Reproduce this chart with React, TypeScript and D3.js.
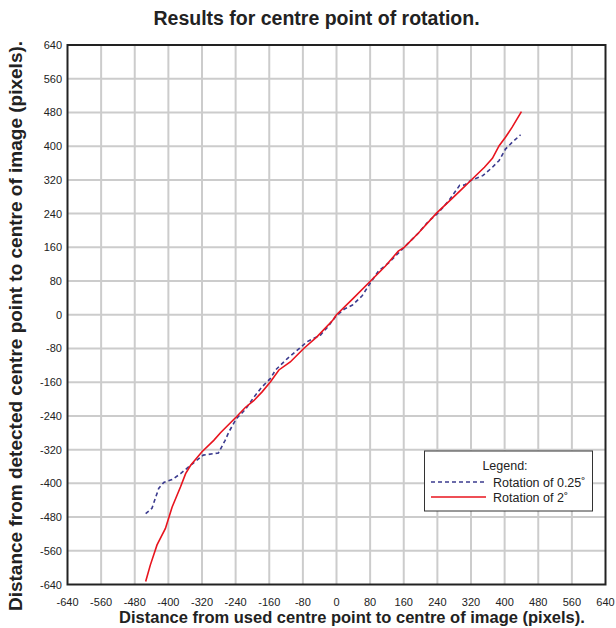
import React from "react";
import * as d3 from "d3";

const ticks = [-640, -560, -480, -400, -320, -240, -160, -80, 0, 80, 160, 240, 320, 400, 480, 560, 640];

const blueX = [-454, -439, -423, -411, -391, -371, -347, -317, -281, -265, -256, -238, -217, -197, -177, -157, -145, -117, -86, -70, -38, -20, -2, 18, 38, 61, 81, 100, 124, 161, 195, 218, 240, 266, 293, 305, 320, 348, 371, 387, 402, 418, 438];
const blueY = [-472, -459, -412, -398, -391, -377, -357, -333, -328, -298, -278, -246, -225, -196, -171, -151, -131, -104, -78, -64, -48, -28, -4, 13, 23, 45, 76, 104, 123, 160, 194, 221, 240, 269, 307, 308, 319, 330, 350, 366, 393, 409, 427];

const redX = [-454, -443, -427, -407, -391, -371, -359, -347, -320, -292, -276, -238, -217, -197, -177, -157, -137, -110, -78, -46, -9, 0, 38, 81, 116, 147, 161, 195, 238, 274, 297, 320, 352, 371, 387, 402, 418, 440];
const redY = [-633, -594, -546, -507, -456, -408, -377, -357, -325, -298, -280, -242, -220, -204, -183, -159, -131, -112, -80, -52, -13, 0, 37, 80, 115, 151, 160, 194, 241, 275, 297, 319, 350, 371, 401, 421, 445, 482];

const seriesNames = ["Rotation of 0.25˚", "Rotation of 2˚"];

export default function App() {
  const W = 616, H = 628;
  const left = 67.5, right = 605.5, top = 45, bottom = 584.5;
  const x = d3.scaleLinear().domain([-640, 640]).range([left, right]);
  const y = d3.scaleLinear().domain([-640, 640]).range([bottom, top]);
  const line = d3.line<[number, number]>().x(d => x(d[0])).y(d => y(d[1]));
  const blue = blueX.map((v, i) => [v, blueY[i]] as [number, number]);
  const red = redX.map((v, i) => [v, redY[i]] as [number, number]);
  const font = "'Liberation Sans', Arial, Helvetica, sans-serif";
  const lgX = 424.5, lgY = 451, lgW = 168, lgH = 60;
  return (
    <svg width={W} height={H} style={{ position: "absolute", left: 0, top: 0, background: "#fff" }} fontFamily={font}>
      <rect x={0} y={0} width={W} height={H} fill="#fff" />
      <text x={316.5} y={25} textAnchor="middle" fontSize={19.5} fontWeight="bold" fill="#222">Results for centre point of rotation.</text>
      {ticks.slice(1, -1).map(t => (
        <line key={"gx" + t} x1={x(t)} x2={x(t)} y1={top} y2={bottom} stroke="#cccccc" strokeWidth={2} />
      ))}
      {ticks.slice(1, -1).map(t => (
        <line key={"gy" + t} x1={left} x2={right} y1={y(t)} y2={y(t)} stroke="#cccccc" strokeWidth={2} />
      ))}
      <path d={line(blue) || ""} fill="none" stroke="#3b3b8f" strokeWidth={1.6} strokeDasharray="4,3" />
      <path d={line(red) || ""} fill="none" stroke="#e8141e" strokeWidth={1.6} />
      <rect x={left} y={top} width={right - left} height={bottom - top} fill="none" stroke="#222" strokeWidth={2} />
      {ticks.map(t => (
        <text key={"tx" + t} x={x(t)} y={605.5} textAnchor="middle" fontSize={11} fill="#222">{t}</text>
      ))}
      {ticks.map(t => (
        <text key={"ty" + t} x={62} y={y(t) + 4} textAnchor="end" fontSize={11} fill="#222">{t}</text>
      ))}
      <text x={352} y={623} textAnchor="middle" fontSize={16.5} fontWeight="bold" fill="#222">Distance from used centre point to centre of image (pixels).</text>
      <text transform={`translate(22,326) rotate(-90)`} textAnchor="middle" fontSize={19} fontWeight="bold" fill="#222">Distance from detected centre point to centre of image (pixels).</text>
      <rect x={lgX} y={lgY} width={lgW} height={lgH} fill="#fff" stroke="#333" strokeWidth={1} />
      <text x={505} y={470} textAnchor="middle" fontSize={12.5} fill="#222">Legend:</text>
      <line x1={431} x2={486} y1={482} y2={482} stroke="#3b3b8f" strokeWidth={1.6} strokeDasharray="4,3" />
      <text x={493} y={486.5} fontSize={12.5} fill="#222">{seriesNames[0]}</text>
      <line x1={431} x2={486} y1={497} y2={497} stroke="#e8141e" strokeWidth={1.6} />
      <text x={493} y={501.5} fontSize={12.5} fill="#222">{seriesNames[1]}</text>
    </svg>
  );
}
